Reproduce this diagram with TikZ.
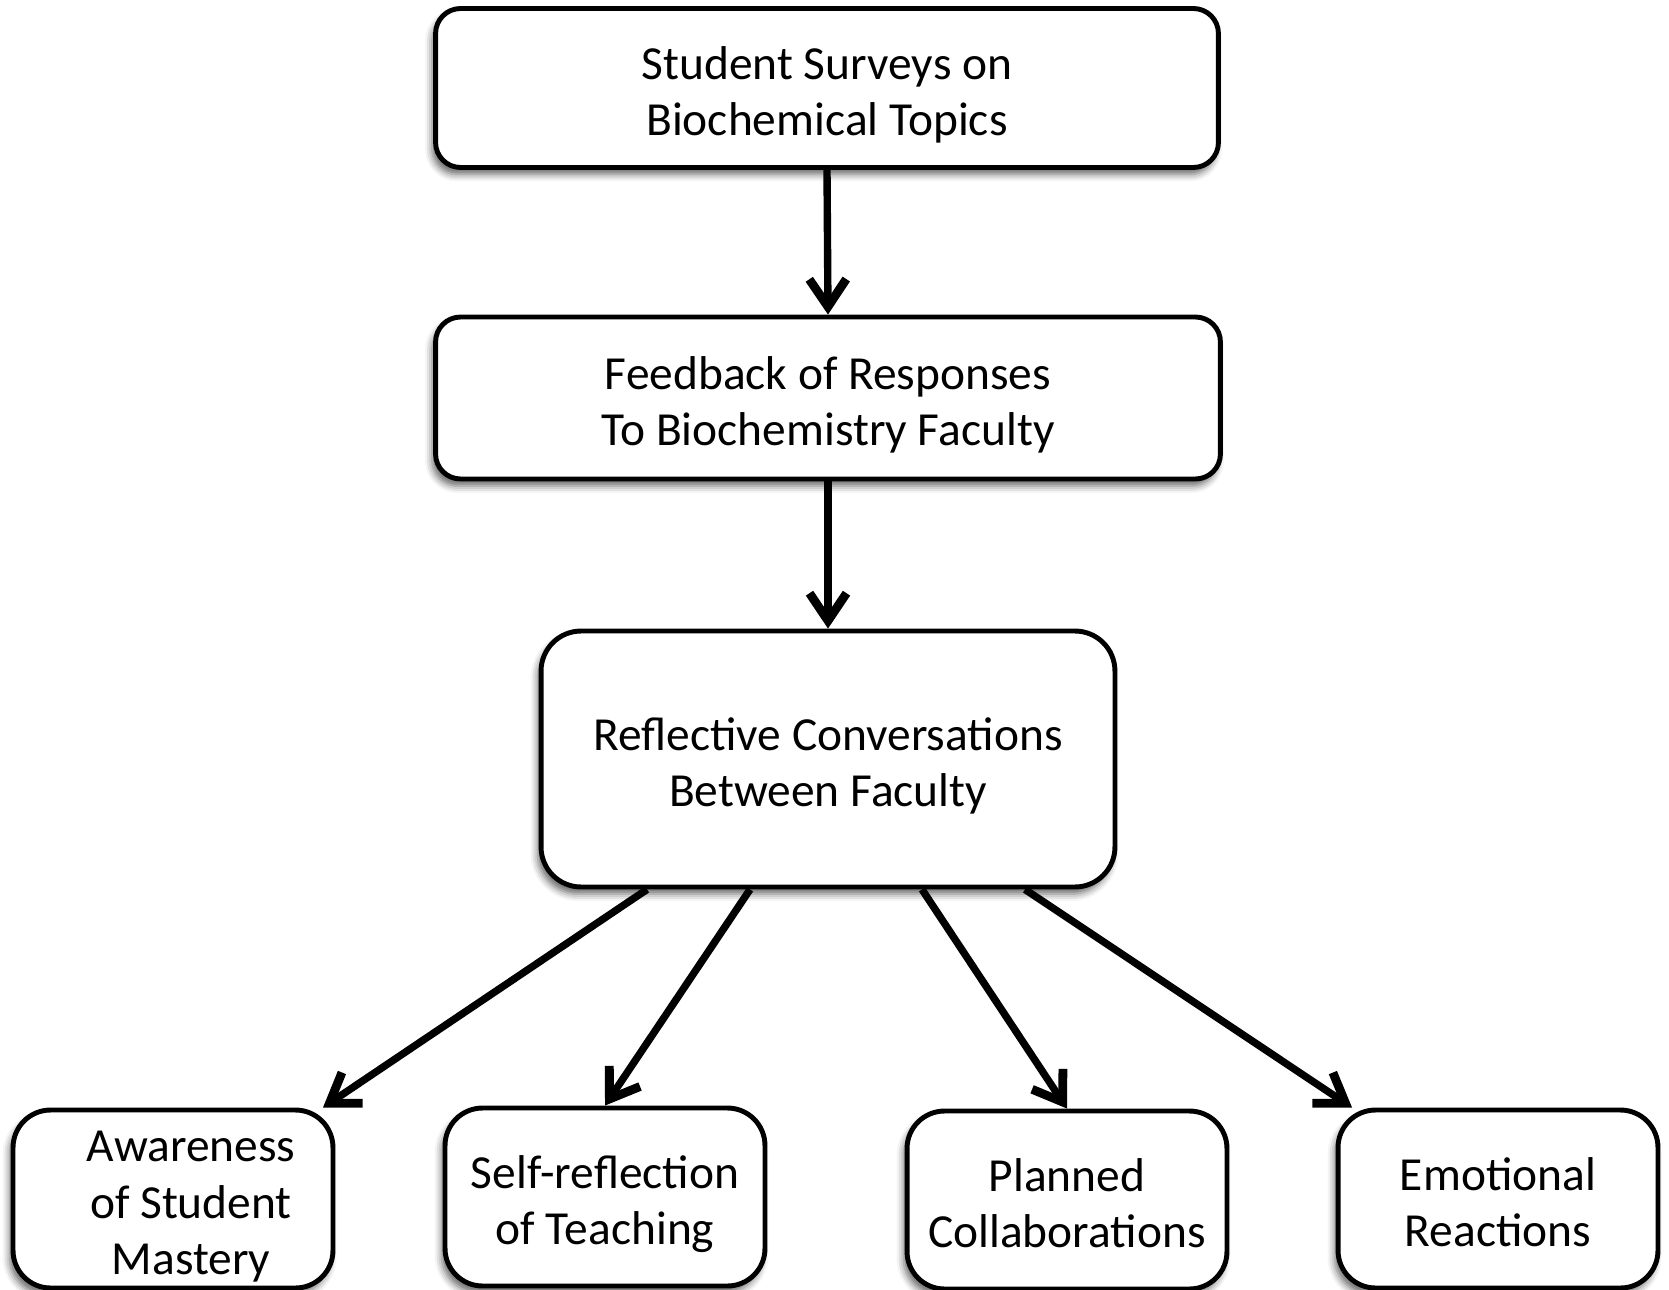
\documentclass[tikz,border=0pt]{standalone}
\usepackage{fontspec}
\setmainfont{Carlito}
\usepackage{tikz}
\usetikzlibrary{arrows.meta,positioning,shadows.blur}
\newcommand{\droptext}[1]{\raisebox{-4.5pt}[\height][\depth]{\begin{tabular}{@{}c@{}}#1\end{tabular}}}
\tikzset{%
	flowbox/.style = {draw, rectangle, line width=2.8pt, fill=white, text centered, inner sep=0pt,
	                  font=\fontsize{27}{32}\selectfont,
	                  blur shadow={shadow xshift=-0.07cm, shadow yshift=-0.14cm, shadow blur radius=0.14cm, shadow opacity=60}},
	topbox/.style  = {flowbox, rounded corners=0.5cm, minimum width=15.66cm, minimum height=3.18cm},
	talkbox/.style = {flowbox, rounded corners=0.8cm, minimum width=11.48cm, minimum height=5.12cm},
	outcome/.style = {flowbox, rounded corners=0.75cm, minimum width=6.4cm, minimum height=3.56cm},
	arrow/.style   = {line width=4.2pt, -{Straight Barb[length=0.55cm,width=0.74cm,line width=5pt]}},
}

\begin{document}
\begin{tikzpicture}[x=0.02cm, y=-0.02cm]
	\useasboundingbox (0,0) rectangle (1669,1290);
	
	\node[topbox] (surveys) at (827,88) {\droptext{Student Surveys on\\Biochemical Topics}};
	\node[topbox, minimum width=15.7cm, minimum height=3.24cm] (feedback) at (828,398) {\droptext{Feedback of Responses\\To Biochemistry Faculty}};
	\node[talkbox] (talks) at (828,759) {\droptext{Reflective Conversations\\Between Faculty}};
	
	\node[outcome] (aware) at (173,1199) {\hspace*{0.72cm}\droptext{Awareness\\of Student\\Mastery}};
	\node[outcome] (selfref) at (605,1197) {\droptext{Self-reflection\\of Teaching}};
	\node[outcome] (collab) at (1067,1200) {\droptext{Planned\\Collaborations}};
	\node[outcome] (emotion) at (1498,1199) {\droptext{Emotional\\Reactions}};
	
	\draw[arrow] (surveys.south) -- (feedback.north);
	\draw[arrow] (feedback.south) -- (talks.north);
	\draw[arrow] ([xshift=-3.62cm]talks.south) -- ([xshift=3cm]aware.north);
	\draw[arrow] ([xshift=-1.56cm]talks.south) -- (selfref.north);
	\draw[arrow] ([xshift=1.88cm]talks.south) -- (collab.north);
	\draw[arrow] ([xshift=3.94cm]talks.south) -- ([xshift=-2.92cm]emotion.north);
\end{tikzpicture}
\end{document}
